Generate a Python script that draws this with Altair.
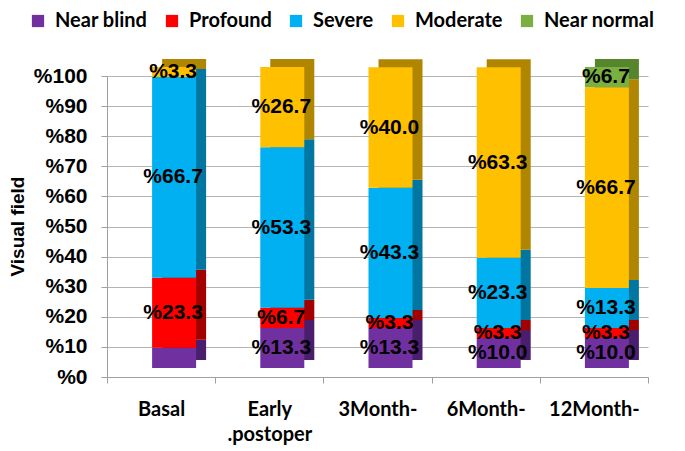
import altair as alt
import pandas as pd

categories = ["Basal", "Early .postoper", "3Month-", "6Month-", "12Month-"]
series = ["Near blind", "Profound", "Severe", "Moderate", "Near normal"]
near_blind = [6.7, 13.3, 13.3, 10.0, 10.0]
profound = [23.3, 6.7, 3.3, 3.3, 3.3]
severe = [66.7, 53.3, 43.3, 23.3, 13.3]
moderate = [3.3, 26.7, 40.0, 63.3, 66.7]
near_normal = [0.0, 0.0, 0.0, 0.0, 6.7]
front_colors = ["#7030A0", "#FF0000", "#00B0F0", "#FFC000", "#7AB041"]
side_colors = ["#4A1E6C", "#A30000", "#0076A0", "#B08500", "#56852C"]
unlabeled = [("Basal", "Near blind")]

rows = []
for s_i, (name, vals) in enumerate(zip(series, [near_blind, profound, severe, moderate, near_normal])):
    for c, v in zip(categories, vals):
        if v <= 0:
            continue
        rows.append({
            "cat": c, "series": name, "ord": s_i, "value": v,
            "side": side_colors[s_i],
            "label": "" if (c, name) in unlabeled else "%" + f"{v:.1f}",
        })
df = pd.DataFrame(rows)

font = "Liberation Sans"
lfont = "Lato"
xscale = alt.Scale(domain=categories, paddingInner=0, paddingOuter=0)
yscale = alt.Scale(domain=[0, 100], nice=False)

xaxis = alt.Axis(labelAngle=0, labelFont=lfont, labelFontWeight="bold",
                 labelFontSize=20, labelColor="black", labelPadding=16,
                 labelBaseline="top", labelExpr="split(datum.label, ' ')", labelLineHeight=25,
                 domainColor="#A0A0A0", tickColor="#A0A0A0", tickSize=6, ticks=True,
                 tickBand="extent", grid=False)
yaxis = alt.Axis(values=list(range(0, 101, 10)), labelExpr="'%' + datum.value",
                 labelOverlap=False,
                 labelFont=font, labelFontWeight="bold", labelFontSize=21, labelColor="black",
                 labelPadding=14, tickColor="#A0A0A0", tickSize=6, domainColor="#A0A0A0",
                 grid=True, gridColor="#B5B5B5", titleFont=font, titleFontWeight="bold",
                 titleFontSize=19, titleColor="black", titleAngle=270,
                 titleAlign="center", titleBaseline="middle", titleX=-90, titleY=150)

x = alt.X("cat:N", scale=xscale, sort=categories, title=None, axis=xaxis)
y = alt.Y("value:Q", scale=yscale, stack="zero", title="Visual field", axis=yaxis)

base = alt.Chart(df)

side = base.mark_bar(width=44, xOffset=23, yOffset=-17).encode(
    x=x, y=y,
    color=alt.Color("side:N", scale=None),
    detail="series:N",
    order=alt.Order("ord:Q", sort="ascending"),
)

front = base.mark_bar(width=44, xOffset=13, yOffset=-9).encode(
    x=x, y=y,
    color=alt.Color("series:N", scale=alt.Scale(domain=series, range=front_colors),
                    legend=alt.Legend(orient="none", direction="horizontal", title=None,
                                      legendX=-79, legendY=-65, symbolType="square",
                                      symbolSize=150, symbolStrokeWidth=0, padding=0,
                                      labelFont=lfont, labelFontWeight="bold",
                                      labelFontSize=20, labelColor="black", columnPadding=14,
                                      symbolOffset=0, labelOffset=7)),
    order=alt.Order("ord:Q", sort="ascending"),
)

text = base.transform_stack(
    stack="value", as_=["y0", "y1"], groupby=["cat"], sort=[alt.SortField("ord", order="ascending")]
).transform_calculate(mid="(datum.y0 + datum.y1) / 2").mark_text(
    font=font, fontWeight="bold", fontSize=21, color="black", baseline="middle", align="center",
    dx=12, dy=-9
).encode(
    x=x,
    y=alt.Y("mid:Q", scale=yscale, title="Visual field", axis=yaxis),
    text="label:N",
)

chart = alt.layer(side, front, text).properties(
    width=541, height=301,
    autosize=alt.AutoSizeParams(type="none"),
    padding={"left": 99, "top": 68, "right": 28, "bottom": 70},
).configure_view(stroke=None)

chart.save("out.html", embed_options={"renderer": "svg", "actions": False})
